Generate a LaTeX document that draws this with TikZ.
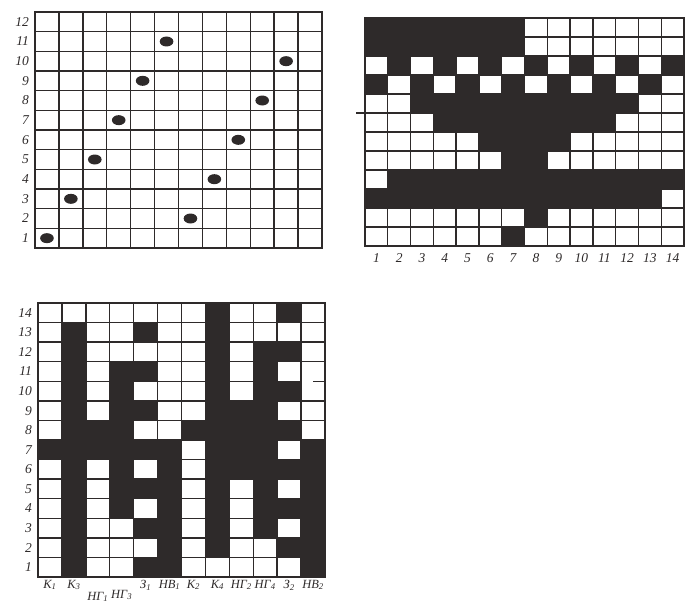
\documentclass[tikz,border=0pt]{standalone}
\usepackage{fontspec}
\setmainfont{Liberation Serif}
\definecolor{ink}{RGB}{46,42,42}
\begin{document}
\begin{tikzpicture}[x=1pt,y=-1pt,
  gridline/.style={draw=ink,line width=1.4pt},
  frameline/.style={draw=ink,line width=1.8pt},
  blackcell/.style={fill=ink},
  dotmark/.style={fill=ink},
  lab/.style={font=\fontsize{13.5}{15}\selectfont\itshape,text=ink,inner sep=0pt},
  sublab/.style={font=\fontsize{12.5}{14}\selectfont\itshape,text=ink,inner sep=0pt}]
\useasboundingbox[fill=white] (0,0) rectangle (686,610);

% ---------------- Grid 1 (dots) ----------------
\def\Ax{35}\def\Ay{12}\def\Aw{23.917}\def\Ah{19.667}
\foreach \c/\r in {1/1,2/3,3/5,4/7,5/9,6/11,7/2,8/4,9/6,10/8,11/10}
  \fill[dotmark] ({\Ax+(\c-0.5)*\Aw},{\Ay+(12-\r+0.5)*\Ah}) ellipse (6.8pt and 5pt);
\foreach \i in {1,...,11} {
  \draw[gridline] ({\Ax+\i*\Aw},\Ay) -- ({\Ax+\i*\Aw},{\Ay+12*\Ah});
  \draw[gridline] (\Ax,{\Ay+\i*\Ah}) -- ({\Ax+12*\Aw},{\Ay+\i*\Ah});
}
\draw[frameline] (\Ax,\Ay) rectangle ({\Ax+12*\Aw},{\Ay+12*\Ah});
\foreach \r in {1,...,12}
  \node[lab,anchor=east] (ga\r) at ({\Ax-6},{\Ay+(12-\r+0.5)*\Ah}) {\r};

% ---------------- Grid 2 ----------------
\def\Bx{365}\def\By{18}\def\Bw{22.786}\def\Bh{19}
\foreach \i/\cols in {1/{1,...,7},2/{1,...,7},3/{2,4,6,8,10,12,14},4/{1,3,5,7,9,11,13},
  5/{3,...,12},6/{4,...,11},7/{6,...,9},8/{7,8},9/{2,...,14},10/{1,...,13},11/{8},12/{7}}
  \foreach \c in \cols
    \fill[blackcell] ({\Bx+(\c-1)*\Bw},{\By+(\i-1)*\Bh}) rectangle ++(\Bw,\Bh);
\foreach \i in {1,...,13}
  \draw[gridline] ({\Bx+\i*\Bw},\By) -- ({\Bx+\i*\Bw},{\By+12*\Bh});
\foreach \i in {1,...,11}
  \draw[gridline] (\Bx,{\By+\i*\Bh}) -- ({\Bx+14*\Bw},{\By+\i*\Bh});
\draw[frameline] (\Bx,\By) rectangle ({\Bx+14*\Bw},{\By+12*\Bh});
\coordinate (tickL) at (356,{\By+5*\Bh});
\coordinate (tickR) at (\Bx,{\By+5*\Bh});
\draw[gridline] (tickL) -- (tickR);
\foreach \c in {1,...,14}
  \node[lab] (gb\c) at ({\Bx+(\c-0.5)*\Bw},258) {\c};

% ---------------- Grid 3 ----------------
\def\Cx{38}\def\Cy{303}\def\Cw{23.917}\def\Ch{19.571}
\foreach \r/\cols in {14/{8,11},13/{2,5,8},12/{2,8,10,11},11/{2,4,5,8,10},10/{2,4,8,10,11},
  9/{2,4,5,8,9,10},8/{2,3,4,7,8,9,10,11},7/{1,2,3,4,5,6,8,9,10,12},6/{2,4,6,8,9,10,11,12},
  5/{2,4,5,6,8,10,12},4/{2,4,6,8,10,11,12},3/{2,5,6,8,10,12},2/{2,6,8,11,12},1/{2,5,6,12}}
  \foreach \c in \cols
    \fill[blackcell] ({\Cx+(\c-1)*\Cw},{\Cy+(14-\r)*\Ch}) rectangle ++(\Cw,\Ch);
\foreach \i in {1,...,11}
  \draw[gridline] ({\Cx+\i*\Cw},\Cy) -- ({\Cx+\i*\Cw},{\Cy+14*\Ch});
\foreach \i in {1,...,13}
  \draw[gridline] (\Cx,{\Cy+\i*\Ch}) -- ({\Cx+12*\Cw},{\Cy+\i*\Ch});
% gap in the line between rows 11 and 10 of the last column
\draw[draw=white,line width=1.8pt] ({\Cx+11*\Cw+1},{\Cy+4*\Ch}) -- (313,{\Cy+4*\Ch});
\draw[frameline] (\Cx,\Cy) rectangle ({\Cx+12*\Cw},{\Cy+14*\Ch});
\foreach \r in {1,...,14}
  \node[lab,anchor=east] (gc\r) at ({\Cx-6},{\Cy+(14-\r+0.5)*\Ch}) {\r};
\foreach \c/\t/\yy in {1/К\textsubscript{1}/585,2/К\textsubscript{3}/585,
  3/НГ\textsubscript{1}/597,4/НГ\textsubscript{3}/595,5/З\textsubscript{1}/585,
  6/НВ\textsubscript{1}/585,7/К\textsubscript{2}/585,8/К\textsubscript{4}/585,
  9/НГ\textsubscript{2}/585,10/НГ\textsubscript{4}/585,11/З\textsubscript{2}/585,
  12/НВ\textsubscript{2}/585}
  \node[sublab] (gl\c) at ({\Cx+(\c-0.5)*\Cw},\yy) {\t};
\end{tikzpicture}
\end{document}
